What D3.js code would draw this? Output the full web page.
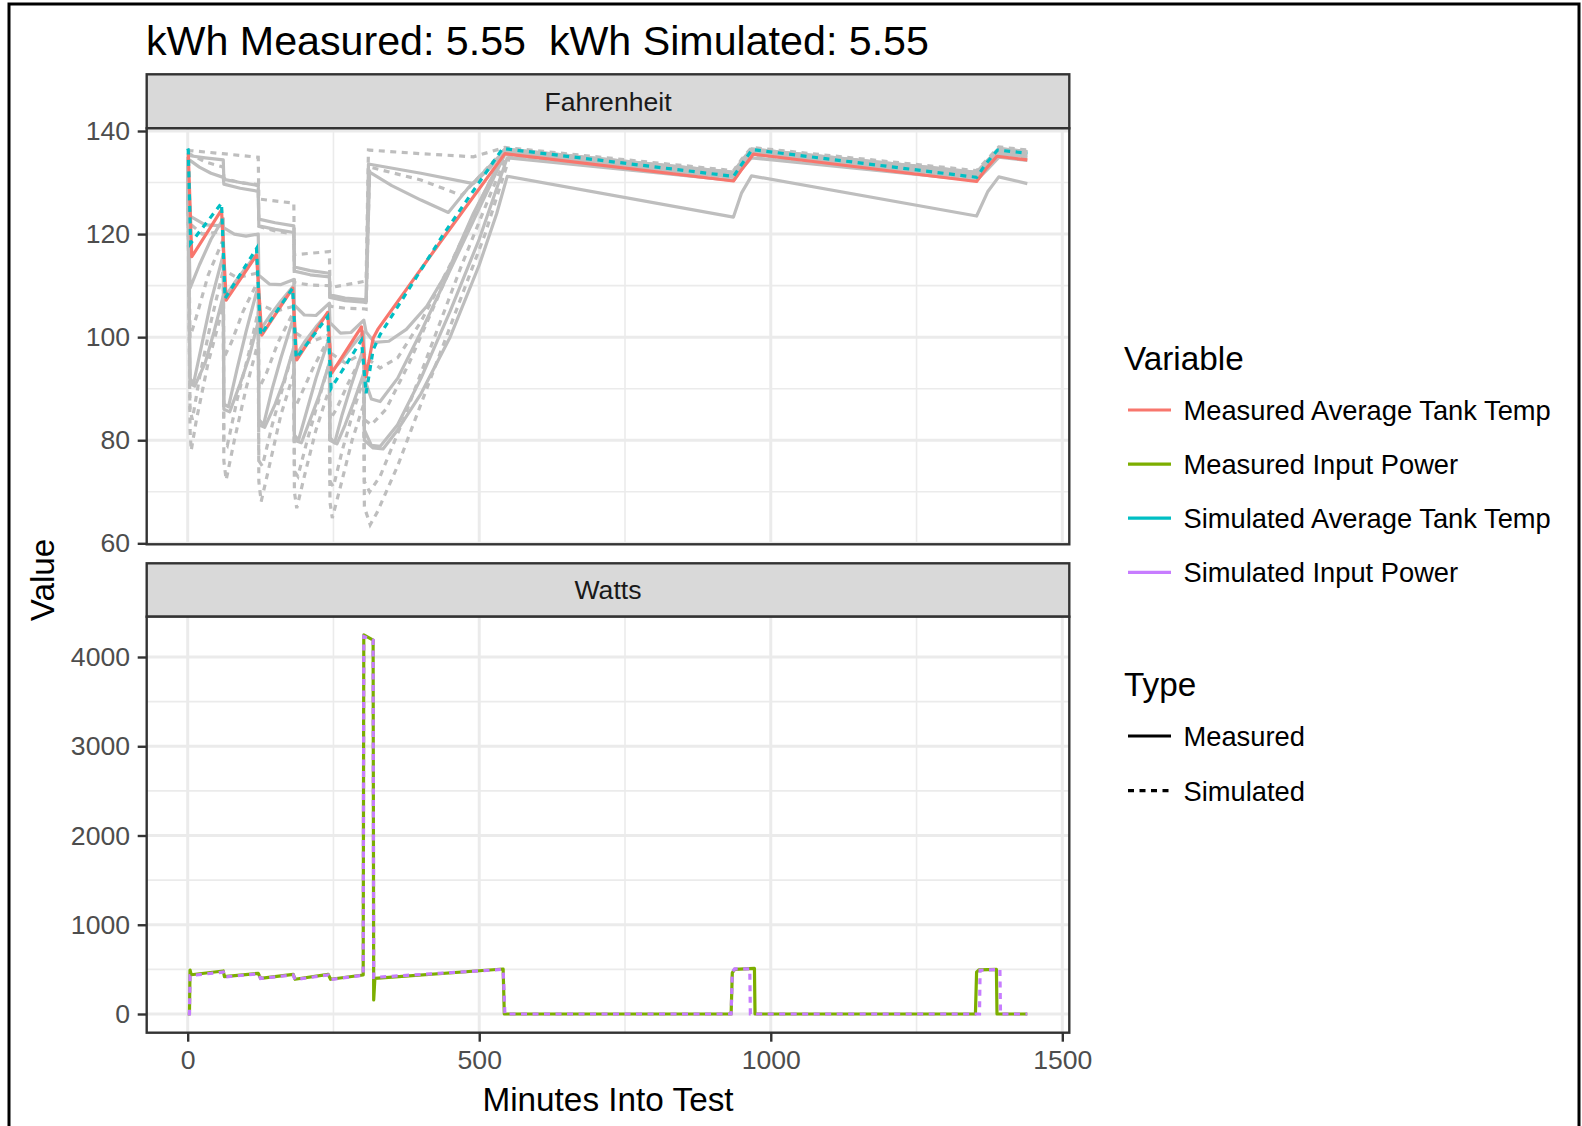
<!DOCTYPE html>
<html>
<head>
<meta charset="utf-8">
<script src="https://cdn.jsdelivr.net/npm/d3@7"></script>
<style>
  body { margin: 0; background: #fff; }
  text { font-family: "Liberation Sans", Arial, Helvetica, sans-serif; }
</style>
</head>
<body>
<script>
// ---- data (minutes, value) ----
const minuteTicks = [0, 500, 1000, 1500]
const minuteMinor = [250, 750, 1250]
const tempTicks = [60, 80, 100, 120, 140]
const tempMinor = [70, 90, 110, 130]
const powerTicks = [0, 1000, 2000, 3000, 4000]
const powerMinor = [500, 1500, 2500, 3500]

const variableNames = ["Measured Average Tank Temp", "Measured Input Power", "Simulated Average Tank Temp", "Simulated Input Power"]
const variableColors = ["#F8766D", "#7CAE00", "#00BFC4", "#C77CFF"]
const typeNames = ["Measured", "Simulated"]

const measuredAvgTemp = [[0,135.8],[1,135.7],[7,115.6],[58,124.7],[66,107.2],[118,115.9],[127,100.4],[180,109.5],[187,95.6],[240,104.8],[247,93.0],[298,102.0],[306,92.3],[318,99.8],[326,101.5],[438,119.2],[544,135.6],[936,130.3],[950,132.5],[970,135.5],[1353,130.2],[1370,132.8],[1388,135.1],[1440,134.4]]
const simulatedAvgTemp = [[0,136.6],[1,136.3],[5,118.2],[58,126.0],[64,107.5],[118,117.2],[125,100.4],[180,109.5],[186,95.9],[240,104.0],[246,90.1],[298,99.4],[306,89.1],[318,97.5],[330,100.5],[440,120.2],[540,136.6],[936,131.2],[950,133.5],[968,136.4],[1353,131.0],[1370,133.8],[1389,136.3],[1440,135.7]]

const measuredPower = [[0,0],[3,0],[4,493],[6,440],[61,482],[63,418],[121,456],[125,400],[181,444],[184,389],[241,444],[245,389],[301,437],[302,4247],[318,4190],[319,157],[321,400],[541,504],[543,0],[932,0],[934,460],[938,500],[972,512],[973,0],[1351,0],[1353,470],[1357,495],[1387,500],[1388,0],[1440,0]]
const simulatedPower = [[0,0],[3,0],[4,430],[61,470],[63,415],[121,450],[125,398],[181,438],[184,385],[241,438],[245,385],[301,435],[302,4230],[318,4190],[319,410],[541,500],[544,0],[932,0],[934,470],[938,505],[964,505],[965,0],[1358,0],[1359,490],[1393,500],[1394,0],[1440,0]]

// individual tank layers (grey)
const measuredLayers = [
  [[0,135.6],[4,135.2],[30,134.8],[61,134.4],[62,130.6],[90,130.0],[121,129.4],[122,122.9],[150,122.2],[182,121.6],[183,113.6],[210,112.9],[243,112.4],[244,108.2],[270,107.6],[302,107.3],[306,107.2],[310,133.6],[400,131.8],[490,129.8],[520,133.0],[544,136.5],[936,132.0],[950,134.2],[967,136.5],[1353,132.0],[1372,134.3],[1391,136.6],[1440,136.0]],
  [[0,134.6],[4,134.3],[20,133.0],[40,131.8],[61,131.0],[62,129.7],[90,128.9],[121,128.3],[122,121.6],[150,120.9],[182,120.3],[183,112.8],[210,112.1],[243,111.7],[244,107.7],[270,107.1],[302,106.8],[306,106.7],[312,132.0],[350,129.4],[400,126.6],[447,124.2],[480,128.8],[544,136.2],[936,131.7],[950,133.9],[967,136.2],[1353,131.7],[1372,134.0],[1391,136.3],[1440,135.7]],
  [[0,134.0],[4,123.5],[30,121.8],[61,121.6],[62,121.2],[80,120.0],[100,119.6],[121,120.0],[122,112.0],[140,110.3],[160,110.2],[182,111.2],[183,106.2],[200,104.3],[220,104.2],[243,106.6],[244,102.8],[262,100.8],[280,100.9],[302,103.3],[306,101.0],[320,99.0],[345,99.2],[375,101.5],[410,106.0],[447,113.0],[490,124.0],[544,135.9],[936,131.4],[950,133.6],[967,135.9],[1353,131.4],[1372,133.7],[1391,136.0],[1440,135.4]],
  [[0,133.5],[4,109.5],[20,114.0],[40,119.0],[61,123.0],[62,107.5],[80,110.5],[100,113.5],[121,116.5],[122,101.0],[140,104.0],[160,107.0],[182,110.0],[183,96.0],[200,99.0],[220,102.0],[243,105.0],[244,93.0],[260,95.0],[280,98.0],[302,101.0],[303,92.0],[315,88.0],[330,87.5],[360,92.0],[400,101.0],[450,113.0],[500,125.0],[544,135.5],[936,131.0],[950,133.2],[967,135.5],[1353,131.0],[1372,133.3],[1391,135.6],[1440,135.0]],
  [[0,133.0],[4,92.0],[10,91.0],[25,99.0],[40,107.0],[61,116.0],[62,87.0],[70,86.5],[85,94.0],[100,101.0],[121,110.0],[122,84.0],[130,83.0],[145,90.0],[160,96.0],[182,104.0],[183,81.0],[190,80.0],[205,86.0],[220,92.0],[243,100.0],[244,80.5],[252,79.5],[265,85.0],[280,90.5],[302,98.0],[303,82.0],[315,79.0],[330,78.8],[360,83.0],[400,92.0],[450,105.0],[500,119.0],[548,134.8],[936,130.4],[950,132.6],[967,134.8],[1353,130.4],[1372,132.6],[1391,134.9],[1440,134.3]],
  [[0,132.5],[4,91.0],[12,90.5],[30,95.0],[45,101.0],[61,108.0],[62,86.0],[72,85.5],[90,91.0],[105,96.0],[121,103.0],[122,83.0],[132,82.5],[150,87.0],[165,91.5],[182,98.0],[183,80.0],[195,79.5],[210,84.0],[225,88.5],[243,95.0],[244,80.0],[256,79.3],[270,83.0],[285,87.5],[302,93.0],[303,80.0],[318,78.5],[335,78.3],[360,82.0],[400,89.0],[450,100.0],[500,114.0],[530,124.0],[548,131.2],[936,123.3],[950,128.0],[967,131.3],[1353,123.5],[1372,128.2],[1391,131.1],[1440,129.8]]
]
const simulatedLayers = [
  [[0,136.4],[4,136.2],[60,135.6],[121,134.9],[122,126.8],[182,126.0],[183,116.0],[243,116.6],[244,109.6],[302,110.8],[306,111.0],[310,136.3],[400,135.6],[490,135.0],[544,136.8],[936,132.3],[950,134.5],[967,136.8],[1353,132.3],[1372,134.6],[1391,136.9],[1440,136.3]],
  [[0,135.8],[4,135.5],[30,134.0],[61,133.0],[62,130.8],[90,130.0],[121,129.6],[122,121.5],[150,120.6],[182,120.0],[183,110.6],[210,110.1],[243,110.0],[244,106.0],[270,105.6],[302,105.5],[306,105.4],[312,133.0],[400,130.5],[470,127.5],[544,136.5],[936,132.0],[950,134.2],[967,136.5],[1353,132.0],[1372,134.3],[1391,136.6],[1440,136.0]],
  [[0,135.0],[4,122.0],[25,120.0],[61,120.5],[62,113.0],[85,111.5],[121,112.5],[122,106.5],[150,105.0],[182,106.0],[183,101.0],[210,99.0],[243,100.5],[244,97.0],[270,95.0],[302,97.0],[306,96.0],[330,94.0],[360,96.0],[400,103.0],[450,114.0],[500,126.0],[544,136.2],[936,131.7],[950,133.9],[967,136.2],[1353,131.7],[1372,134.0],[1391,136.3],[1440,135.7]],
  [[0,134.5],[4,100.0],[15,104.0],[35,112.0],[61,119.0],[62,96.0],[75,99.0],[95,105.0],[121,111.0],[122,90.0],[135,93.0],[155,99.0],[182,105.0],[183,86.0],[195,89.0],[215,94.0],[243,100.0],[244,84.0],[255,86.0],[275,91.0],[302,97.0],[303,84.0],[315,83.0],[340,86.0],[380,95.0],[430,108.0],[480,121.0],[544,135.9],[936,131.4],[950,133.6],[967,135.9],[1353,131.4],[1372,133.7],[1391,136.0],[1440,135.4]],
  [[0,134.0],[4,86.0],[8,84.0],[20,92.0],[40,103.0],[61,113.0],[62,80.0],[68,79.0],[85,88.0],[105,97.0],[121,105.0],[122,76.0],[128,75.0],[145,83.0],[165,91.0],[182,98.0],[183,74.0],[189,73.0],[205,80.0],[225,88.0],[243,95.0],[244,72.0],[250,71.0],[265,78.0],[285,86.0],[302,92.0],[303,72.0],[312,70.0],[330,73.0],[370,84.0],[420,99.0],[470,114.0],[520,128.0],[548,135.4],[936,130.9],[950,133.1],[967,135.4],[1353,130.9],[1372,133.2],[1391,135.5],[1440,134.9]],
  [[0,133.5],[4,82.0],[6,78.0],[15,84.0],[35,95.0],[61,106.0],[62,76.0],[66,72.3],[80,80.0],[100,90.0],[121,99.0],[122,72.0],[126,68.1],[140,75.0],[160,85.0],[182,93.0],[183,70.0],[187,66.8],[200,73.0],[220,82.0],[243,90.0],[244,68.0],[248,64.9],[262,71.0],[282,80.0],[302,87.0],[303,67.0],[313,63.6],[325,66.0],[360,75.0],[410,90.0],[460,105.0],[510,120.0],[552,135.0],[936,130.5],[950,132.7],[967,135.0],[1353,130.5],[1372,132.8],[1391,135.1],[1440,134.5]]
]

// ---- layout ----
const W = 1582, H = 1126
const panelLeft = 146.7, panelRight = 1069.3
const dash = "6,5.5"
const lineW = 3.2
const axisFont = 26.6, legendFont = 27.3, baseFont = 33.3

const svg = d3.select("body").append("svg").attr("width", W).attr("height", H)
svg.append("rect").attr("width", W).attr("height", H).attr("fill", "#fff")
// outer frame
svg.append("rect").attr("x", 9).attr("y", 4).attr("width", 1570).attr("height", 1140)
  .attr("fill", "none").attr("stroke", "#000").attr("stroke-width", 3)

const x = d3.scaleLinear().domain([0, 1500]).range([187.7, 1062.3])

function drawPanel(id, label, stripTop, top, bottom, y, ticks, minor, drawLines) {
  const g = svg.append("g").attr("id", id)
  // strip
  g.append("rect").attr("x", panelLeft).attr("y", stripTop)
    .attr("width", panelRight - panelLeft).attr("height", top - stripTop)
    .attr("fill", "#d9d9d9").attr("stroke", "#333").attr("stroke-width", 2.4)
  g.append("text").attr("x", (panelLeft + panelRight) / 2).attr("y", (stripTop + top) / 2 + 9.3)
    .attr("text-anchor", "middle").attr("font-size", axisFont).attr("fill", "#1a1a1a").text(label)

  g.append("clipPath").attr("id", `clip-${id}`).append("rect")
    .attr("x", panelLeft).attr("y", top).attr("width", panelRight - panelLeft).attr("height", bottom - top)
  const body = g.append("g").attr("clip-path", `url(#clip-${id})`)
  body.append("rect").attr("x", panelLeft).attr("y", top)
    .attr("width", panelRight - panelLeft).attr("height", bottom - top).attr("fill", "#fff")

  // grid: minor then major
  body.selectAll(".vminor").data(minuteMinor).join("line")
    .attr("x1", d => x(d)).attr("x2", d => x(d)).attr("y1", top).attr("y2", bottom)
    .attr("stroke", "#ebebeb").attr("stroke-width", 1.6)
  body.selectAll(".hminor").data(minor).join("line")
    .attr("x1", panelLeft).attr("x2", panelRight).attr("y1", d => y(d)).attr("y2", d => y(d))
    .attr("stroke", "#ebebeb").attr("stroke-width", 1.6)
  body.selectAll(".vmajor").data(minuteTicks).join("line")
    .attr("x1", d => x(d)).attr("x2", d => x(d)).attr("y1", top).attr("y2", bottom)
    .attr("stroke", "#ebebeb").attr("stroke-width", 3)
  body.selectAll(".hmajor").data(ticks).join("line")
    .attr("x1", panelLeft).attr("x2", panelRight).attr("y1", d => y(d)).attr("y2", d => y(d))
    .attr("stroke", "#ebebeb").attr("stroke-width", 3)

  drawLines(body)

  g.append("rect").attr("x", panelLeft).attr("y", top)
    .attr("width", panelRight - panelLeft).attr("height", bottom - top)
    .attr("fill", "none").attr("stroke", "#333").attr("stroke-width", 2.4)

  // y axis
  const ax = g.append("g").attr("transform", `translate(${panelLeft},0)`)
    .call(d3.axisLeft(y).tickValues(ticks).tickSize(9).tickPadding(7.7).tickFormat(d3.format("d")))
  ax.select(".domain").remove()
  ax.selectAll(".tick line").attr("stroke", "#333").attr("stroke-width", 2.4)
  ax.selectAll(".tick text").attr("font-size", axisFont).attr("fill", "#4d4d4d")
    .attr("font-family", "Liberation Sans, Arial, sans-serif")
  return g
}

function pathFor(y) {
  return d3.line().x(d => x(d[0])).y(d => y(d[1]))
}

// top panel: temperatures
const yTemp = d3.scaleLinear().domain([60, 140]).range([543.3, 131])
drawPanel("fahrenheit", "Fahrenheit", 74.3, 128.3, 544.3, yTemp, tempTicks, tempMinor, body => {
  const line = pathFor(yTemp)
  body.selectAll(".mlayer").data(measuredLayers).join("path")
    .attr("d", line).attr("fill", "none").attr("stroke", "#bebebe").attr("stroke-width", lineW)
    .attr("stroke-linejoin", "round")
  body.selectAll(".slayer").data(simulatedLayers).join("path")
    .attr("d", line).attr("fill", "none").attr("stroke", "#bebebe").attr("stroke-width", lineW)
    .attr("stroke-dasharray", dash)
  body.append("path").attr("d", line(measuredAvgTemp)).attr("fill", "none")
    .attr("stroke", variableColors[0]).attr("stroke-width", lineW).attr("stroke-linejoin", "round")
  body.append("path").attr("d", line(simulatedAvgTemp)).attr("fill", "none")
    .attr("stroke", variableColors[2]).attr("stroke-width", lineW).attr("stroke-dasharray", dash)
})

// bottom panel: power
const yPow = d3.scaleLinear().domain([0, 4000]).range([1014, 657])
drawPanel("watts", "Watts", 563.3, 616.7, 1032.7, yPow, powerTicks, powerMinor, body => {
  const line = pathFor(yPow)
  body.append("path").attr("d", line(measuredPower)).attr("fill", "none")
    .attr("stroke", variableColors[1]).attr("stroke-width", lineW).attr("stroke-linejoin", "round")
  body.append("path").attr("d", line(simulatedPower)).attr("fill", "none")
    .attr("stroke", variableColors[3]).attr("stroke-width", lineW).attr("stroke-dasharray", dash)
})

// x axis
const xa = svg.append("g").attr("transform", "translate(0,1032.7)")
  .call(d3.axisBottom(x).tickValues(minuteTicks).tickSize(9).tickPadding(8.4).tickFormat(d3.format("d")))
xa.select(".domain").remove()
xa.selectAll(".tick line").attr("stroke", "#333").attr("stroke-width", 2.4)
xa.selectAll(".tick text").attr("font-size", axisFont).attr("fill", "#4d4d4d")
  .attr("font-family", "Liberation Sans, Arial, sans-serif")

// titles
svg.append("text").attr("x", 146).attr("y", 54.5).attr("font-size", 41.2).attr("fill", "#000")
  .attr("xml:space", "preserve").style("white-space", "pre")
  .text("kWh Measured: 5.55  kWh Simulated: 5.55")
svg.append("text").attr("x", (panelLeft + panelRight) / 2).attr("y", 1111)
  .attr("text-anchor", "middle").attr("font-size", baseFont).attr("fill", "#000").text("Minutes Into Test")
svg.append("text").attr("transform", "translate(54,580) rotate(-90)")
  .attr("text-anchor", "middle").attr("font-size", baseFont).attr("fill", "#000").text("Value")

// legends
const legend = svg.append("g").attr("transform", "translate(1124,0)")
legend.append("text").attr("x", 0).attr("y", 370).attr("font-size", baseFont).text("Variable")
const varRows = legend.selectAll(".var").data(variableNames).join("g")
  .attr("transform", (d, i) => `translate(0,${410 + i * 54.1})`)
varRows.append("line").attr("x1", 4).attr("x2", 47).attr("y1", 0).attr("y2", 0)
  .attr("stroke", (d, i) => variableColors[i]).attr("stroke-width", lineW)
varRows.append("text").attr("x", 59.5).attr("y", 10).attr("font-size", legendFont).text(d => d)

legend.append("text").attr("x", 0).attr("y", 696).attr("font-size", baseFont).text("Type")
const typeRows = legend.selectAll(".typ").data(typeNames).join("g")
  .attr("transform", (d, i) => `translate(0,${736 + i * 54.7})`)
typeRows.append("line").attr("x1", 4).attr("x2", 47).attr("y1", 0).attr("y2", 0)
  .attr("stroke", "#000").attr("stroke-width", lineW)
  .attr("stroke-dasharray", (d, i) => i === 1 ? dash : null)
typeRows.append("text").attr("x", 59.5).attr("y", 10).attr("font-size", legendFont).text(d => d)
</script>
</body>
</html>
